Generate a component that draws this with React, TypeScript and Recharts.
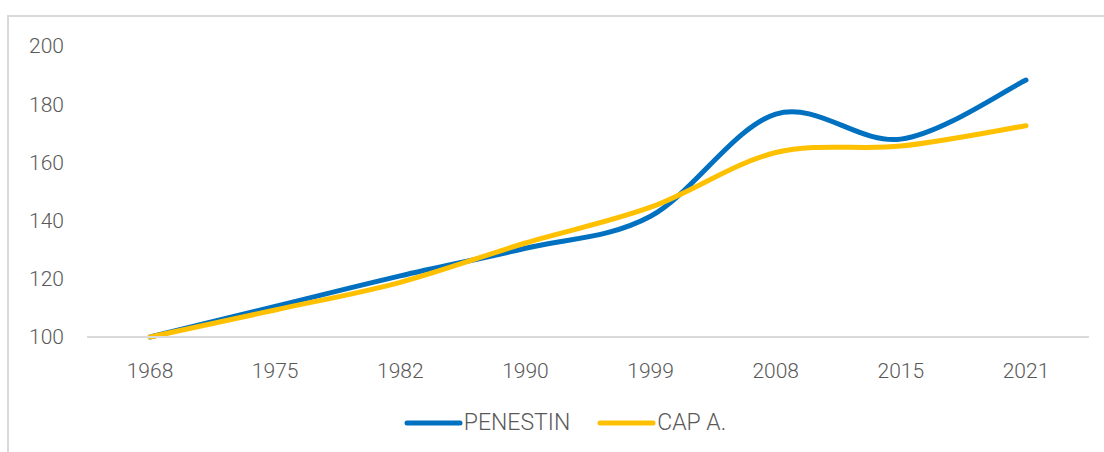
import { LineChart, Line, XAxis, YAxis, Legend } from 'recharts';

const years = ['1968', '1975', '1982', '1990', '1999', '2008', '2015', '2021'];
const penestin = [100, 110.5, 121, 130.5, 141.5, 176.6, 168, 188.3];
const capA = [100, 109.3, 118.8, 132.3, 144.6, 163.4, 165.6, 172.6];
const yTicks = [100, 120, 140, 160, 180, 200];

const data = years.map((year, i) => ({ year, penestin: penestin[i], capA: capA[i] }));

const series = [
  { key: 'penestin', name: 'PENESTIN', color: '#0070C0' },
  { key: 'capA', name: 'CAP A.', color: '#FFC000' },
];

const textColor = '#595959';
const fontFamily = 'Roboto, "Noto Sans", sans-serif';

// smoothed line like the spreadsheet one (Catmull-Rom, 1/6 control points)
const smoothCurve = (context: any) => {
  let pts: number[][] = [];
  return {
    areaStart() {},
    areaEnd() {},
    lineStart() {
      pts = [];
    },
    lineEnd() {
      const n = pts.length;
      if (!n) return;
      context.moveTo(pts[0][0], pts[0][1]);
      for (let i = 0; i < n - 1; i++) {
        const p0 = pts[i - 1] || pts[i];
        const p1 = pts[i];
        const p2 = pts[i + 1];
        const p3 = pts[i + 2] || pts[i + 1];
        context.bezierCurveTo(
          p1[0] + (p2[0] - p0[0]) / 6,
          p1[1] + (p2[1] - p0[1]) / 6,
          p2[0] - (p3[0] - p1[0]) / 6,
          p2[1] - (p3[1] - p1[1]) / 6,
          p2[0],
          p2[1]
        );
      }
    },
    point(x: number, y: number) {
      pts.push([+x, +y]);
    },
  };
};

const LegendContent = () => (
  <div
    style={{
      display: 'flex',
      justifyContent: 'center',
      gap: 26,
      fontFamily,
      fontSize: 23,
      fontWeight: 300,
      color: textColor,
      paddingTop: 22,
      paddingLeft: 40,
    }}
  >
    {series.map((s) => (
      <div key={s.key} style={{ display: 'flex', alignItems: 'center' }}>
        <svg width={60} height={8} style={{ marginRight: 1 }}>
          <line x1={4} y1={4} x2={57} y2={4} stroke={s.color} strokeWidth={5} strokeLinecap="round" />
        </svg>
        <span>{s.name}</span>
      </div>
    ))}
  </div>
);

const App = () => {
  return (
    <div style={{ position: 'fixed', left: 0, top: 0, width: 1104, height: 452, overflow: 'hidden', background: '#fff' }}>
      <div
        style={{
          position: 'absolute',
          left: 7,
          top: 15,
          width: 1300,
          height: 700,
          border: '2px solid #d9d9d9',
        }}
      />
      <LineChart
        width={1104}
        height={452}
        data={data}
        margin={{ top: 46, right: 15, left: 0, bottom: 0 }}
        style={{ position: 'absolute', left: 0, top: 0 }}
      >
        <XAxis
          dataKey="year"
          padding={{ left: 63, right: 63 }}
          axisLine={{ stroke: '#d9d9d9', strokeWidth: 2 }}
          tickLine={false}
          tickMargin={20}
          height={50}
          tick={{ fill: textColor, fontSize: 21, fontWeight: 300, fontFamily }}
        />
        <YAxis
          domain={[100, 200]}
          ticks={yTicks}
          width={87}
          axisLine={false}
          tickLine={false}
          tickSize={0}
          tickMargin={23}
          tick={{ fill: textColor, fontSize: 21, fontWeight: 300, fontFamily }}
        />
        <Legend verticalAlign="bottom" height={65} content={<LegendContent />} />
        {series.map((s) => (
          <Line
            key={s.key}
            dataKey={s.key}
            name={s.name}
            type={smoothCurve as any}
            stroke={s.color}
            strokeWidth={5}
            strokeLinecap="round"
            dot={false}
            activeDot={false}
            isAnimationActive={false}
          />
        ))}
      </LineChart>
    </div>
  );
};

export default App;
